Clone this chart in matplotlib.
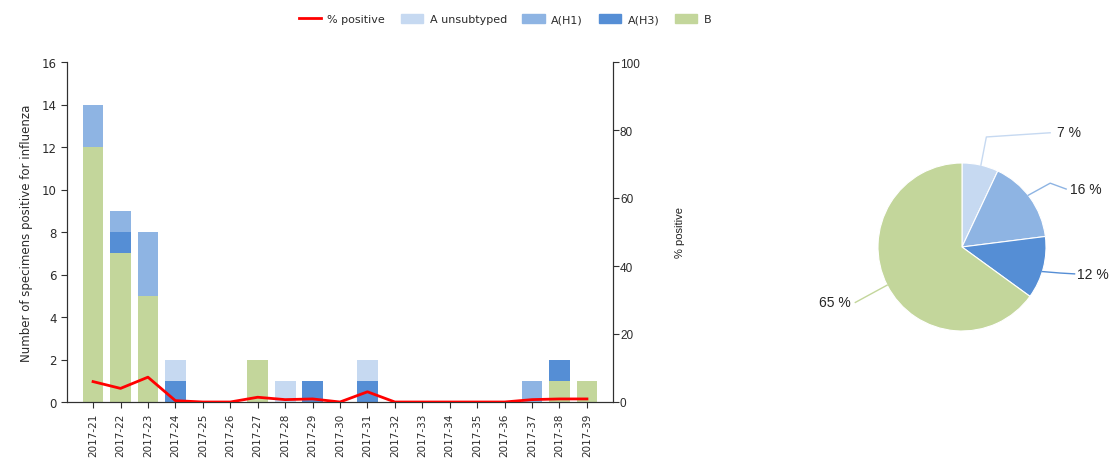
import numpy as np
import matplotlib
matplotlib.use("Agg")
import matplotlib.pyplot as plt
from matplotlib.patches import Patch
from matplotlib.lines import Line2D

# ─── Data ────────────────────────────────────────────────────────────────────
weeks = [f"2017-{w}" for w in range(21, 40)]
b_counts      = [12, 7, 5, 0, 0, 0, 2, 0, 0, 0, 0, 0, 0, 0, 0, 0, 0, 1, 1]
h3_counts     = [0, 1, 0, 1, 0, 0, 0, 0, 1, 0, 1, 0, 0, 0, 0, 0, 0, 1, 0]
h1_counts     = [2, 1, 3, 0, 0, 0, 0, 0, 0, 0, 0, 0, 0, 0, 0, 0, 1, 0, 0]
unsub_counts  = [0, 0, 0, 1, 0, 0, 0, 1, 0, 0, 1, 0, 0, 0, 0, 0, 0, 0, 0]
pct_positive  = [6.0, 4.0, 7.3, 0.4, 0.0, 0.0, 1.4, 0.7, 0.9, 0.0, 3.0,
                 0.0, 0.0, 0.0, 0.0, 0.0, 0.7, 0.9, 0.9]

pie_labels = ["A unsubtyped", "A(H1)", "A(H3)", "B"]
pie_shares = [7, 16, 12, 65]

# ─── Palette ─────────────────────────────────────────────────────────────────
C_UNSUB = "#c6d9f1"
C_H1    = "#8eb4e3"
C_H3    = "#558ed5"
C_B     = "#c3d69b"
C_RED   = "#ff0000"
TXT     = "#2b2b2b"
AX      = "#303030"

plt.rcParams.update({
    "font.family": "DejaVu Sans",
    "axes.edgecolor": AX,
    "xtick.color": AX,
    "ytick.color": AX,
    "xtick.labelcolor": TXT,
    "ytick.labelcolor": TXT,
})

fig = plt.figure(figsize=(11.14, 4.64), dpi=100, facecolor="white")

# ─── Bar chart ───────────────────────────────────────────────────────────────
W, H = 1114, 464
ax = fig.add_axes([67 / W, 1 - 403 / H, (613 - 67) / W, (403 - 63) / H])
x = np.arange(len(weeks))
bw = 0.76
b = np.array(b_counts)
h3 = np.array(h3_counts)
h1 = np.array(h1_counts)
un = np.array(unsub_counts)
ax.bar(x, b, bw, color=C_B, zorder=2)
ax.bar(x, h3, bw, bottom=b, color=C_H3, zorder=2)
ax.bar(x, h1, bw, bottom=b + h3, color=C_H1, zorder=2)
ax.bar(x, un, bw, bottom=b + h3 + h1, color=C_UNSUB, zorder=2)

ax.set_xlim(-0.95, len(weeks) - 0.05)
ax.set_ylim(0, 16)
ax.set_yticks(range(0, 17, 2))
ax.set_xticks(x)
ax.set_xticklabels(weeks, rotation=90, fontsize=7.5)
ax.tick_params(axis="y", labelsize=8.5, length=4, direction="out")
ax.tick_params(axis="x", length=4, direction="out")
ax.spines["top"].set_visible(False)
ax.set_ylabel("Number of specimens positive for influenza", fontsize=8.5,
              color=TXT, labelpad=6)

ax2 = ax.twinx()
ax2.plot(x, pct_positive, color=C_RED, lw=2, zorder=3)
ax2.set_ylim(0, 100)
ax2.set_yticks(range(0, 101, 20))
ax2.tick_params(axis="y", labelsize=8.5, length=4, direction="out", pad=1)
for t in ax2.get_yticklabels():
    t.set_family("Liberation Sans")
ax2.spines["top"].set_visible(False)
ax2.set_ylabel("% positive", fontsize=8, color="#202020", labelpad=25,
               family="Liberation Sans")

# ─── Legend ──────────────────────────────────────────────────────────────────
handles = [
    Line2D([0], [0], color=C_RED, lw=2),
    Patch(color=C_UNSUB), Patch(color=C_H1), Patch(color=C_H3), Patch(color=C_B),
]
labels = ["% positive"] + pie_labels
fig.legend(handles, labels, loc="center", ncol=5, frameon=False,
           bbox_to_anchor=(505 / W, 1 - 20 / H), fontsize=8,
           handlelength=2.0, handleheight=0.9, handletextpad=0.6,
           columnspacing=1.4, labelcolor=TXT)

# ─── Pie ─────────────────────────────────────────────────────────────────────
R = 84
pax = fig.add_axes([(962 - 2 * R) / W, (H - 248 - 2 * R) / H, 4 * R / W, 4 * R / H])
wedges, _ = pax.pie(pie_shares, colors=[C_UNSUB, C_H1, C_H3, C_B],
                    startangle=90, counterclock=False, radius=1,
                    wedgeprops=dict(linewidth=0.8, edgecolor="white"))
pax.set_xlim(-2, 2)
pax.set_ylim(-2, 2)
pax.set_aspect("equal")
pax.axis("off")

# leader lines: (start angle on rim, elbow, end), label position
leaders = [
    (77, (0.29, 1.31), (1.05, 1.36), (1.13, 1.37), "left"),
    (38, (1.05, 0.76), (1.24, 0.69), (1.28, 0.69), "left"),
    (-17, (1.17, -0.31), (1.34, -0.32), (1.37, -0.32), "left"),
    (207, None, (-1.27, -0.66), (-1.32, -0.66), "right"),
]
for (ang, elbow, end, lab, ha), share, w in zip(leaders, pie_shares, wedges):
    a = np.deg2rad(ang)
    pts = [(np.cos(a), np.sin(a))]
    if elbow is not None:
        pts.append(elbow)
    pts.append(end)
    xs, ys = zip(*pts)
    col = w.get_facecolor()
    pax.plot(xs, ys, color=col, lw=1.0)
    pax.text(lab[0], lab[1], f"{share} %", ha=ha, va="center", fontsize=10,
             color="#262626", family="Liberation Sans")

fig.savefig("out.png", dpi=100, facecolor="white")
